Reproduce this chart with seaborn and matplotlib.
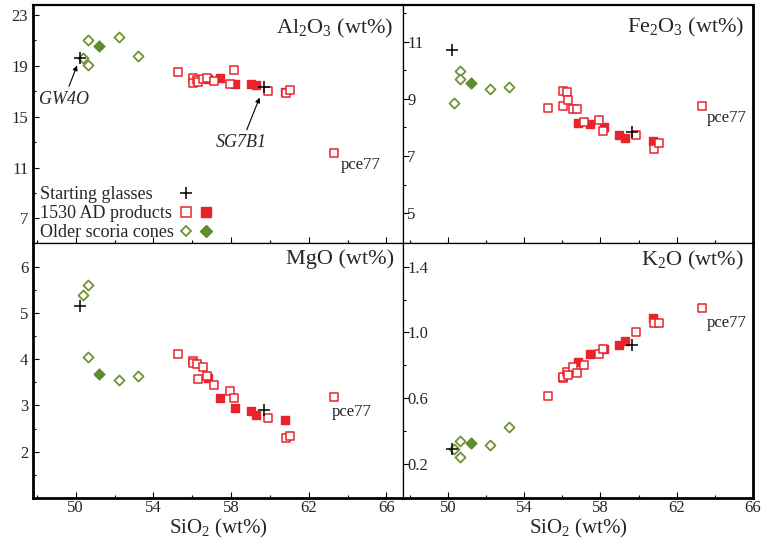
import numpy as np
import pandas as pd
import matplotlib.pyplot as plt
import seaborn as sns
from matplotlib.lines import Line2D
from matplotlib.legend_handler import HandlerTuple

# 1530 AD products, open squares (last one is pce77)
open_sio2 = [55.25, 56.02, 56.03, 56.25, 56.30, 56.55, 56.78, 57.13, 57.95, 58.15, 59.88, 60.83, 61.05, 63.30]
open_al2o3 = [18.54, 18.02, 17.67, 17.85, 17.75, 17.96, 18.07, 17.81, 17.55, 18.67, 17.05, 16.90, 17.10, 12.17]
open_fe2o3 = [8.67, 9.29, 8.76, 9.23, 8.96, 8.65, 8.65, 8.20, 8.26, 7.88, 7.74, 7.24, 7.45, 8.76]
open_mgo = [4.11, 3.97, 3.92, 3.90, 3.57, 3.83, 3.63, 3.44, 3.32, 3.16, 2.72, 2.30, 2.35, 3.18]
open_k2o = [0.61, 0.72, 0.73, 0.76, 0.74, 0.79, 0.75, 0.80, 0.87, 0.90, 1.00, 1.06, 1.06, 1.15]

# 1530 AD products, filled squares
fill_sio2 = [56.83, 57.45, 58.20, 59.00, 59.30, 60.75]
fill_al2o3 = [18.00, 18.07, 17.60, 17.57, 17.49, 16.95]
fill_fe2o3 = [8.17, 8.11, 8.03, 7.74, 7.62, 7.53]
fill_mgo = [3.60, 3.15, 2.95, 2.875, 2.79, 2.68]
fill_k2o = [0.82, 0.87, 0.90, 0.92, 0.95, 1.085]

# starting glasses
glass_names = ["GW4O", "SG7B1"]
glass_sio2 = [50.22, 59.68]
glass_al2o3 = [19.64, 17.31]
glass_fe2o3 = [10.71, 7.85]
glass_mgo = [5.15, 2.91]
glass_k2o = [0.29, 0.92]

# older scoria cones
cone_sio2 = [50.35, 50.62, 50.62, 52.22, 53.22]
cone_al2o3 = [19.60, 21.03, 19.04, 21.24, 19.80]
cone_fe2o3 = [8.85, 9.99, 9.70, 9.33, 9.43]
cone_mgo = [5.39, 5.61, 4.05, 3.54, 3.64]
cone_k2o = [0.29, 0.338, 0.241, 0.312, 0.42]

cone_fill_sio2 = [51.22]
cone_fill_al2o3 = [20.59]
cone_fill_fe2o3 = [9.57]
cone_fill_mgo = [3.68]
cone_fill_k2o = [0.328]

oxides = ["Al2O3", "Fe2O3", "MgO", "K2O"]


def frame(si, al, fe, mg, k):
    return pd.DataFrame({"SiO2": si, "Al2O3": al, "Fe2O3": fe, "MgO": mg, "K2O": k})


df_open = frame(open_sio2, open_al2o3, open_fe2o3, open_mgo, open_k2o)
df_fill = frame(fill_sio2, fill_al2o3, fill_fe2o3, fill_mgo, fill_k2o)
df_glass = frame(glass_sio2, glass_al2o3, glass_fe2o3, glass_mgo, glass_k2o)
df_cone = frame(cone_sio2, cone_al2o3, cone_fe2o3, cone_mgo, cone_k2o)
df_cone_fill = frame(cone_fill_sio2, cone_fill_al2o3, cone_fill_fe2o3, cone_fill_mgo, cone_fill_k2o)

red = "#e8232b"
green = "#6f9233"
green_fill = "#5f8c2c"

sns.set_style("ticks")
plt.rcParams["font.family"] = ["Liberation Serif", "DejaVu Serif"]
plt.rcParams["mathtext.fontset"] = "custom"
plt.rcParams["mathtext.rm"] = "Liberation Serif"
plt.rcParams["mathtext.it"] = "Liberation Serif:italic"

titles = {
    "Al2O3": r"Al$_2$O$_3$ (wt%)",
    "Fe2O3": r"Fe$_2$O$_3$ (wt%)",
    "MgO": "MgO (wt%)",
    "K2O": r"K$_2$O (wt%)",
}
ylims = {"Al2O3": (5.06, 23.79), "Fe2O3": (3.96, 12.28), "MgO": (1.0, 6.51), "K2O": (-0.01, 1.545)}
yticks = {
    "Al2O3": ([7, 11, 15, 19, 23], [9, 13, 17, 21]),
    "Fe2O3": ([5, 7, 9, 11], [6, 8, 10, 12]),
    "MgO": ([2, 3, 4, 5, 6], [1.5, 2.5, 3.5, 4.5, 5.5]),
    "K2O": ([0.2, 0.6, 1.0, 1.4], [0.4, 0.8, 1.2]),
}
pce_offset = {"Al2O3": (5, -9), "Fe2O3": (4, -9), "MgO": (-2, -11), "K2O": (4, -11)}
title_y = {"Al2O3": 0.95, "Fe2O3": 0.955, "MgO": 0.975, "K2O": 0.975}

fig, axes = plt.subplots(2, 2, figsize=(7.67, 5.48), dpi=100, sharex="col",
                         gridspec_kw=dict(width_ratios=[370, 350], height_ratios=[238, 255]))
fig.subplots_adjust(left=33 / 767, right=753 / 767, top=1 - 5 / 548, bottom=1 - 498 / 548,
                    wspace=0, hspace=0)

for ax, ox in zip(axes.flat, oxides):
    sns.scatterplot(data=df_fill, x="SiO2", y=ox, marker="s", s=32, color=red,
                    edgecolor=red, linewidth=1.0, ax=ax, legend=False, zorder=3)
    sns.scatterplot(data=df_open, x="SiO2", y=ox, marker="s", s=32, color="white",
                    edgecolor=red, linewidth=1.1, ax=ax, legend=False, zorder=4)
    sns.scatterplot(data=df_cone, x="SiO2", y=ox, marker="D", s=26, color="white",
                    edgecolor=green, linewidth=1.3, ax=ax, legend=False, zorder=3)
    sns.scatterplot(data=df_cone_fill, x="SiO2", y=ox, marker="D", s=30, color=green_fill,
                    edgecolor=green_fill, linewidth=1.0, ax=ax, legend=False, zorder=3)
    sns.scatterplot(data=df_glass, x="SiO2", y=ox, marker="+", s=65, color="black",
                    linewidth=1.1, ax=ax, legend=False, zorder=5)

    ax.annotate("pce77", xy=(df_open["SiO2"].iloc[-1], df_open[ox].iloc[-1]),
                xytext=pce_offset[ox], textcoords="offset points",
                ha="left", va="center", fontsize=12)
    ax.text(0.975, title_y[ox], titles[ox], transform=ax.transAxes, ha="right", va="top", fontsize=16)

    ax.set_ylim(*ylims[ox])
    major, minor = yticks[ox]
    ax.set_yticks(major)
    ax.set_yticks(minor, minor=True)
    if ox == "K2O":
        ax.set_yticklabels([f"{v:.1f}" for v in major])
    ax.set_xticks([50, 54, 58, 62, 66])
    ax.set_xticks([48, 52, 56, 60, 64], minor=True)
    ax.tick_params(which="both", direction="in", labelsize=12, color="black")
    ax.tick_params(which="major", length=4, width=0.8)
    ax.tick_params(which="minor", length=2.5, width=0.8)
    ax.tick_params(axis="x", pad=1.5)
    ax.set_ylabel("")
    ax.set_xlabel("")
    for sp in ax.spines.values():
        sp.set_linewidth(0.9)
        sp.set_color("black")

axes[0, 0].set_xlim(47.8, 66.85)
axes[0, 1].set_xlim(47.65, 66.0)

# outer frame heavier
axes[0, 0].spines["left"].set_linewidth(2.0)
axes[1, 0].spines["left"].set_linewidth(2.0)
axes[0, 0].spines["top"].set_linewidth(1.6)
axes[0, 1].spines["top"].set_linewidth(1.6)
axes[0, 1].spines["right"].set_linewidth(2.0)
axes[1, 1].spines["right"].set_linewidth(2.0)
axes[1, 0].spines["bottom"].set_linewidth(2.0)
axes[1, 1].spines["bottom"].set_linewidth(2.0)

for ax in axes[1]:
    ax.set_xlabel(r"SiO$_2$ (wt%)", fontsize=15, labelpad=0.5)

# right-hand panels carry their y labels inside the frame
for ax in axes[:, 1]:
    ax.tick_params(axis="y", pad=-3)
    for lab in ax.get_yticklabels():
        lab.set_horizontalalignment("left")

# labels for the starting glasses
ax = axes[0, 0]
arrow = dict(arrowstyle="-|>", lw=0.8, color="black", mutation_scale=7)
ax.annotate(glass_names[0], xy=(glass_sio2[0], glass_al2o3[0]), xytext=(-11.5, -30),
            textcoords="offset points", ha="center", va="center", fontsize=13,
            fontstyle="italic", arrowprops=dict(arrow, shrinkA=1, shrinkB=6))
ax.annotate(glass_names[1], xy=(glass_sio2[1], glass_al2o3[1]), xytext=(-16, -40),
            textcoords="offset points", ha="center", va="center", fontsize=13,
            fontstyle="italic", arrowprops=dict(arrow, shrinkA=1, shrinkB=8))

# legend: labels in one column, keys in the next
blank = Line2D([], [], linestyle="none")
h_plus = Line2D([], [], linestyle="none", marker="+", markersize=9, color="black", markeredgewidth=1.1)
h_sq_o = Line2D([], [], linestyle="none", marker="s", markersize=6.5, markerfacecolor="white",
                markeredgecolor=red, markeredgewidth=1.1)
h_sq_f = Line2D([], [], linestyle="none", marker="s", markersize=6.5, color=red)
h_di_o = Line2D([], [], linestyle="none", marker="D", markersize=5.5, markerfacecolor="white",
                markeredgecolor=green, markeredgewidth=1.3)
h_di_f = Line2D([], [], linestyle="none", marker="D", markersize=6.5, color=green_fill)

handles = [blank, blank, blank, (h_plus, blank), (h_sq_o, h_sq_f), (h_di_o, h_di_f)]
labels = ["Starting glasses", "1530 AD products", "Older scoria cones", "", "", ""]
ax.legend(handles, labels, ncols=2, loc="lower left", bbox_to_anchor=(-0.103, 0.008),
          frameon=False, fontsize=13, handlelength=2.2, handletextpad=0.3,
          columnspacing=0.1, labelspacing=0.11, borderpad=0, borderaxespad=0,
          handler_map={tuple: HandlerTuple(ndivide=None)})

fig.savefig("out.png", dpi=100)
